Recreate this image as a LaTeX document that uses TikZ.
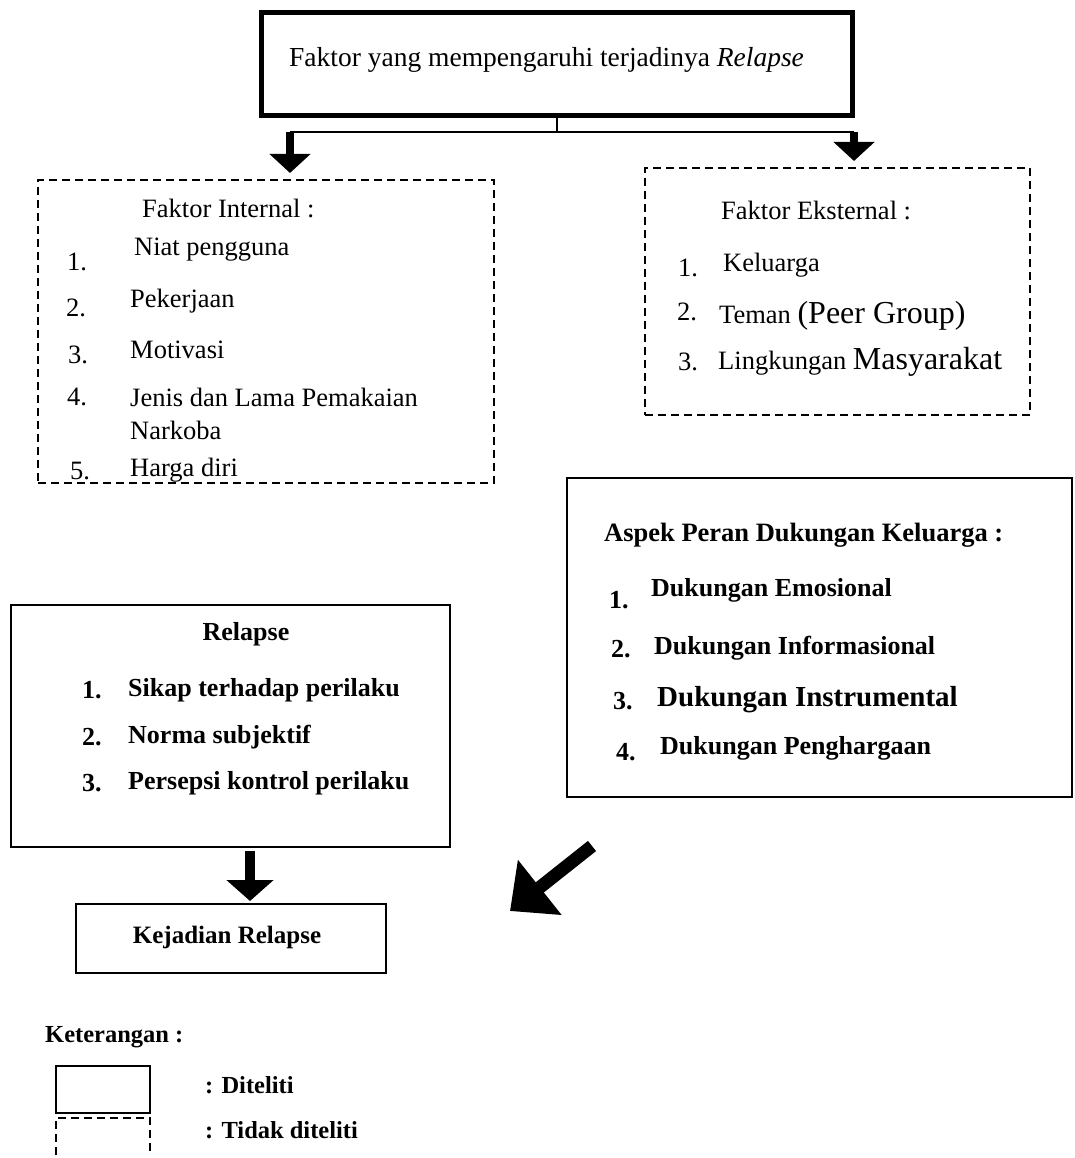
\documentclass[tikz,border=0pt]{standalone}
\usepackage{fontspec}
\setmainfont{Liberation Serif}
\usetikzlibrary{arrows.meta}
\tikzset{
  box/.style={draw, inner sep=0pt, line width=2.2pt},
  thickbox/.style={draw, inner sep=0pt, line width=5pt},
  dbox/.style={draw, inner sep=0pt, line width=1.8pt, dash pattern=on 8pt off 5pt},
  txt/.style={inner sep=0pt, anchor=west, font=\fontsize{26.5}{30}\selectfont},
  btxt/.style={inner sep=0pt, anchor=west, font=\fontsize{26}{30}\selectfont\bfseries},
  smallarrow/.style={line width=8pt, -{Triangle[width=40pt,length=19pt]}},
  midarrow/.style={line width=10pt, -{Triangle[width=46pt,length=21pt]}},
  bigarrow/.style={line width=13pt, -{Triangle[width=68pt,length=38pt]}},
}
\begin{document}
\begin{tikzpicture}[x=1pt,y=-1pt]
\useasboundingbox (0,0) rectangle (1074,1158);
% boxes
\node[thickbox, minimum width=591pt, minimum height=103pt] (top) at (557,64) {};
\node[dbox, minimum width=456pt, minimum height=303pt] (int) at (266,331.5) {};
\node[dbox, minimum width=385pt, minimum height=247pt] (ext) at (837.5,291.5) {};
\node[box, minimum width=505pt, minimum height=319pt] (asp) at (819.5,637.5) {};
\node[box, minimum width=439pt, minimum height=242pt] (rel) at (230.5,726) {};
\node[box, minimum width=310pt, minimum height=69pt] (kej) at (231,938.5) {};
% top text
\node[txt, font=\fontsize{27.5}{30}\selectfont] (toptxt) at (289,60) {Faktor yang mempengaruhi terjadinya \textit{Relapse}};
% bus and arrows
\coordinate (bus) at (557,132);
\coordinate (busL) at (290,132);
\coordinate (busR) at (854,132);
\coordinate (intTip) at (290,173);
\coordinate (extTip) at (854,161);
\draw[line width=2pt] (top.south) -- (bus);
\draw[line width=2pt] (busL) -- (busR);
\draw[smallarrow] (busL) -- (intTip);
\draw[smallarrow] (busR) -- (extTip);
% internal
\node[txt] (intT) at (142,208) {Faktor Internal :};
\node[txt] (i1n) at (67,262) {1.};
\node[txt] (i1) at (134,250) {Niat pengguna};
\node[txt] (i2n) at (66,308) {2.};
\node[txt] (i2) at (130,301) {Pekerjaan};
\node[txt] (i3n) at (68,355) {3.};
\node[txt] (i3) at (130,350) {Motivasi};
\node[txt] (i4n) at (67,397) {4.};
\node[txt] (i4) at (130,397) {Jenis dan Lama Pemakaian};
\node[txt] (i4b) at (130,430) {Narkoba};
\node[txt] (i5n) at (70,471) {5.};
\node[txt] (i5) at (130,470) {Harga diri};
% external
\node[txt] (extT) at (721,210) {Faktor Eksternal :};
\node[txt] (e1n) at (678,268) {1.};
\node[txt] (e1) at (723,265) {Keluarga};
\node[txt] (e2n) at (677,312) {2.};
\node[txt] (e2) at (719,316) {Teman {\fontsize{32}{34}\selectfont(Peer Group)}};
\node[txt] (e3n) at (678,362) {3.};
\node[txt] (e3) at (718,362) {Lingkungan {\fontsize{32}{34}\selectfont Masyarakat}};
% aspek
\node[btxt, font=\fontsize{26.5}{30}\selectfont\bfseries] (aspT) at (604,535) {Aspek Peran Dukungan Keluarga :};
\node[btxt] (a1n) at (609,600) {1.};
\node[btxt] (a1) at (651,590) {Dukungan Emosional};
\node[btxt] (a2n) at (611,649) {2.};
\node[btxt] (a2) at (654,648) {Dukungan Informasional};
\node[btxt] (a3n) at (613,701) {3.};
\node[btxt, font=\fontsize{29}{32}\selectfont\bfseries] (a3) at (657,700) {Dukungan Instrumental};
\node[btxt] (a4n) at (616,752) {4.};
\node[btxt] (a4) at (660,748) {Dukungan Penghargaan};
% relapse
\node[btxt, anchor=center] (relT) at (246,634) {Relapse};
\node[btxt] (r1n) at (82,690) {1.};
\node[btxt] (r1) at (128,690) {Sikap terhadap perilaku};
\node[btxt] (r2n) at (82,737) {2.};
\node[btxt] (r2) at (128,737) {Norma subjektif};
\node[btxt] (r3n) at (82,783) {3.};
\node[btxt] (r3) at (128,783) {Persepsi kontrol perilaku};
% kejadian
\node[btxt, anchor=center, font=\fontsize{25}{30}\selectfont\bfseries] (kejT) at (227,937) {Kejadian Relapse};
% arrows
\coordinate (relOut) at (250,851);
\coordinate (kejIn) at (250,901);
\draw[midarrow] (relOut) -- (kejIn);
\coordinate (dTail) at (592,846);
\coordinate (dTip) at (510,911);
\draw[bigarrow] (dTail) -- (dTip);
% legend
\node[btxt, font=\fontsize{24.5}{30}\selectfont\bfseries] (ket) at (45,1037) {Keterangan :};
\node[box, minimum width=94pt, minimum height=47pt] (legS) at (103,1089.5) {};
\coordinate (ld1) at (56,1155);
\coordinate (ld2) at (56,1118);
\coordinate (ld3) at (150,1118);
\coordinate (ld4) at (150,1155);
\draw[line width=1.8pt, dash pattern=on 8pt off 5pt] (ld1) -- (ld2) -- (ld3) -- (ld4);
\node[btxt, font=\fontsize{24.5}{30}\selectfont\bfseries] (legA) at (205,1085) {: Diteliti};
\node[btxt, font=\fontsize{24.5}{30}\selectfont\bfseries] (legB) at (205,1130) {: Tidak diteliti};
\end{tikzpicture}
\end{document}
